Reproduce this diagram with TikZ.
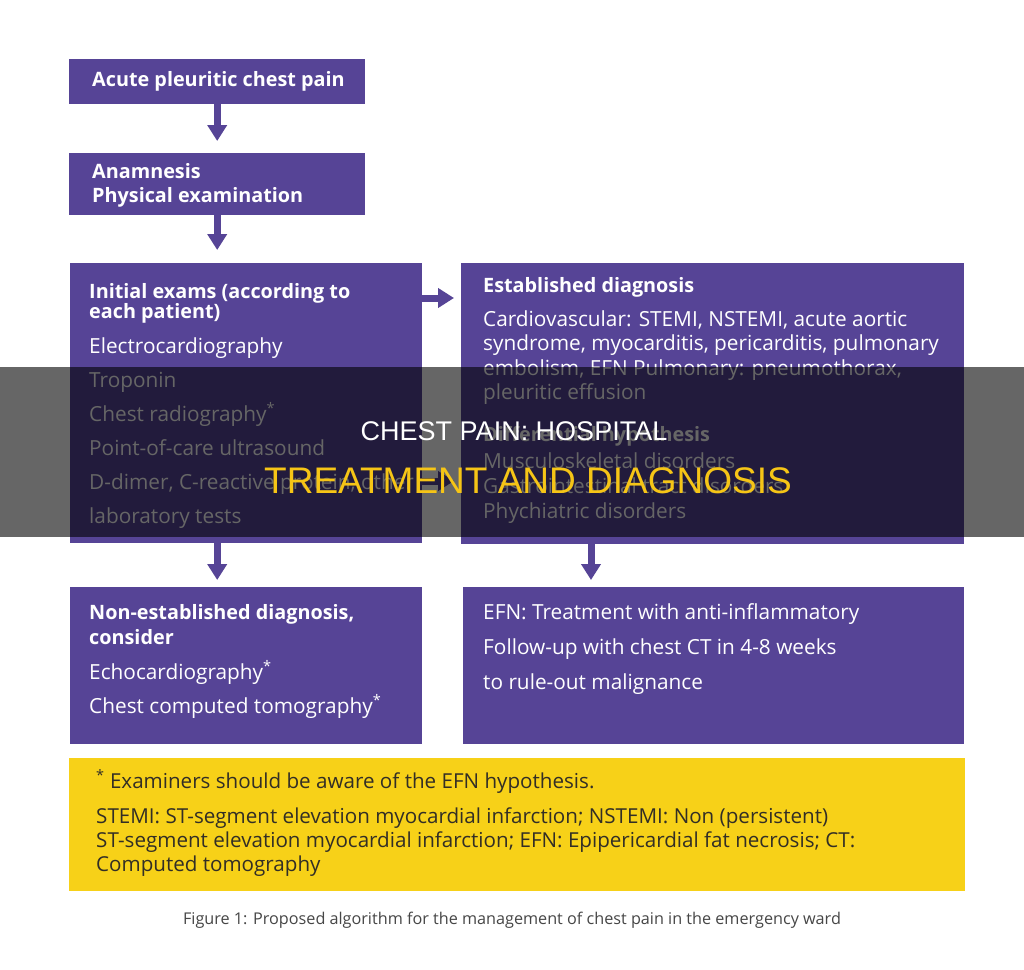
\documentclass[tikz,border=0pt]{standalone}
\usepackage{fontspec}
\setmainfont{Open Sans}
\newfontfamily\titlefont{Liberation Sans}
\usetikzlibrary{arrows.meta,positioning,calc}

\definecolor{boxpurple}{RGB}{86,68,150}
\definecolor{notegold}{RGB}{247,209,24}
\definecolor{titlegold}{RGB}{246,197,22}
\definecolor{notetext}{RGB}{50,46,38}
\definecolor{captext}{RGB}{70,70,70}

\tikzset{
  flowbox/.style={fill=boxpurple, draw=none, anchor=north west, inner sep=0pt},
  notebox/.style={fill=notegold, draw=none, anchor=north west, inner sep=0pt},
  boxline/.style={anchor=base west, inner sep=0pt, text=white, font=\fontsize{20.8}{24}\selectfont},
  boxhead/.style={boxline, font=\bfseries\fontsize{19.8}{24}\selectfont},
  noteline/.style={anchor=base west, inner sep=0pt, text=notetext, font=\fontsize{20.6}{24}\selectfont},
  flowarrow/.style={draw=boxpurple, line width=7pt, -{Triangle[width=19pt,length=16pt]}},
}

\begin{document}
\begin{tikzpicture}[x=1pt,y=-1pt]
  \useasboundingbox (0,0) rectangle (1024,969);
  \fill[white] (0,0) rectangle (1024,969);

  % boxes
  \node[flowbox, minimum width=296pt, minimum height=45pt] (pain) at (69,59) {};
  \node[flowbox, minimum width=296pt, minimum height=62pt] (hist) at (69,153) {};
  \node[flowbox, minimum width=352pt, minimum height=280pt] (exams) at (70,263) {};
  \node[flowbox, minimum width=503pt, minimum height=281pt] (estab) at (461,263) {};
  \node[flowbox, minimum width=352pt, minimum height=157pt] (nonest) at (70,587) {};
  \node[flowbox, minimum width=501pt, minimum height=157pt] (efn) at (463,587) {};
  \node[notebox, minimum width=896pt, minimum height=133pt] (note) at (69,758) {};

  % texts
  \node[boxhead] (pain_t) at (92,86) {Acute pleuritic chest pain};
  \node[boxhead] (hist_t1) at (92,178) {Anamnesis};
  \node[boxhead] (hist_t2) at (92,202) {Physical examination};

  \node[boxhead] (exams_h1) at (89,298) {Initial exams (according to};
  \node[boxhead] (exams_h2) at (89,318) {each patient)};
  \foreach \txt [count=\i from 0] in {Electrocardiography, Troponin,
      Chest radiography\textsuperscript{*}, Point-of-care ultrasound,
      {D-dimer, C-reactive protein, other}, laboratory tests}
    \node[boxline] (exams_l\i) at (89,{353+34*\i}) {\txt};

  \node[boxhead] (estab_h1) at (483,292) {Established diagnosis};
  \foreach \txt [count=\i from 0] in {{Cardiovascular: STEMI, NSTEMI, acute aortic},
      {syndrome, myocarditis, pericarditis, pulmonary},
      {embolism, EFN Pulmonary: pneumothorax,}, pleuritic effusion}
    \node[boxline] (estab_l\i) at (483,{326+24.5*\i}) {\txt};
  \node[boxhead] (estab_h2) at (483,441) {Differential hypothesis};
  \foreach \txt [count=\i from 0] in {Musculoskeletal disorders,
      Gastrointestinal tract disorders, Phychiatric disorders}
    \node[boxline] (estab_m\i) at (483,{468+25*\i}) {\txt};

  \node[boxhead] (nonest_h1) at (89,619) {Non-established diagnosis,};
  \node[boxhead] (nonest_h2) at (89,644) {consider};
  \node[boxline] (nonest_l1) at (89,679) {Echocardiography\textsuperscript{*}};
  \node[boxline] (nonest_l2) at (89,713) {Chest computed tomography\textsuperscript{*}};

  \foreach \txt [count=\i from 0] in {EFN: Treatment with anti-inflammatory,
      Follow-up with chest CT in 4-8 weeks, to rule-out malignance}
    \node[boxline] (efn_l\i) at (483,{619+35*\i}) {\txt};

  \node[noteline] (note_l0) at (96,788) {\textsuperscript{*} Examiners should be aware of the EFN hypothesis.};
  \foreach \txt [count=\i from 0] in {{STEMI: ST-segment elevation myocardial infarction; NSTEMI: Non (persistent)},
      {ST-segment elevation myocardial infarction; EFN: Epipericardial fat necrosis; CT:},
      Computed tomography}
    \node[noteline] (note_l\i x) at (96,{823+24*\i}) {\txt};

  \node[text=captext, font=\fontsize{16.2}{18}\selectfont, inner sep=0pt] (caption) at (512,920)
    {Figure 1: Proposed algorithm for the management of chest pain in the emergency ward};

  % arrows
  \draw[flowarrow] (pain.south) -- ([yshift=12pt]hist.north);
  \draw[flowarrow] (hist.south) -- ([yshift=13pt]exams.north -| hist.south);
  \draw[flowarrow] ($(exams.north east)+(0,35)$) -- ($(estab.north west)+(-7,35)$);
  \draw[flowarrow] ($(exams.north east)+(0,218)$) -- ($(estab.north west)+(-7,218)$);
  \draw[flowarrow] (exams.south -| pain.south) -- ([yshift=7pt]nonest.north -| pain.south);
  \draw[flowarrow] ($(estab.south west)+(130,0)$) -- ($(efn.north west)+(128,-7)$);

  % title band
  \fill[black, opacity=0.6] (0,367) rectangle (1024,537);
  \node[text=white, font=\titlefont\fontsize{27}{30}\selectfont, inner sep=0pt] (title1) at (514,431) {CHEST PAIN: HOSPITAL};
  \node[text=titlegold, font=\titlefont\fontsize{37}{40}\selectfont, inner sep=0pt] (title2) at (528,481) {TREATMENT AND DIAGNOSIS};
\end{tikzpicture}
\end{document}
